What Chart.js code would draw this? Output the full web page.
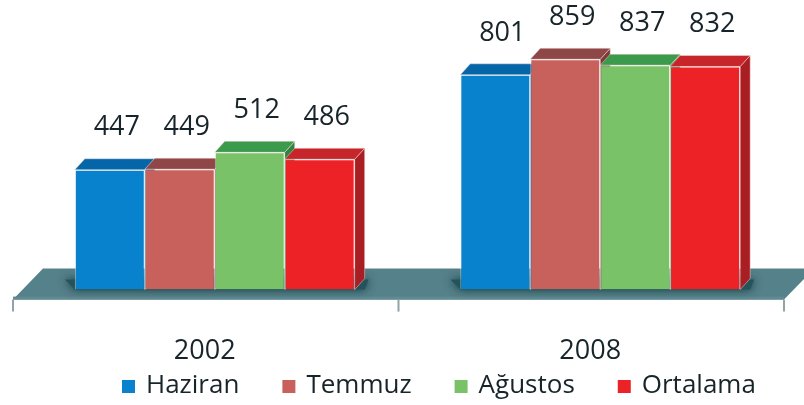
<!DOCTYPE html>
<html>
<head>
<meta charset="utf-8">
<script src="https://cdn.jsdelivr.net/npm/chart.js@4.4.1/dist/chart.umd.min.js"></script>
<style>
    html, body { margin: 0; padding: 0; background: #ffffff; }
</style>
</head>
<body>
<canvas id="myChart" width="804" height="405"></canvas>
<script>
const years = ["2002", "2008"];
const seriesNames = ["Haziran", "Temmuz", "Ağustos", "Ortalama"];
const haziran = [447, 801];
const temmuz = [449, 859];
const agustos = [512, 837];
const ortalama = [486, 832];

const frontColors = ["#0882cc", "#c8605c", "#7ac268", "#ec2226"];
const topColors = ["#0466a8", "#8e4646", "#3c9a4c", "#c6262a"];
const sideColors = ["#045a94", "#7c3a3a", "#2f8540", "#a81e22"];
const textColor = "#17242a";
const depthX = 10, depthY = -11;

// floor, shadows, bar sides and tops (drawn behind the front faces)
const bars3d = {
    id: "bars3d",
    beforeDatasetsDraw(chart)
    {
        let ctx = chart.ctx;
        let area = chart.chartArea;
        let base = chart.scales.y.getPixelForValue(0);
        let fl = area.left - 9, fr = area.right - 9, fy = base + 10, by = fy - 31;
        ctx.save();
        ctx.fillStyle = "#55818a";
        ctx.beginPath();
        ctx.moveTo(fl, fy);
        ctx.lineTo(fr, fy);
        ctx.lineTo(fr + 30, by);
        ctx.lineTo(fl + 30, by);
        ctx.closePath();
        ctx.fill();
        ctx.fillStyle = "#5f8a92";
        ctx.fillRect(fl, fy - 3, fr - fl, 3);

        ctx.strokeStyle = "#8fa3a8";
        ctx.lineWidth = 2;
        let step = (area.right - area.left) / years.length;
        for (let i = 0; i <= years.length; i++)
        {
            let x = fl + step * i;
            ctx.beginPath();
            ctx.moveTo(x, fy);
            ctx.lineTo(x, fy + 12);
            ctx.stroke();
        }

        let metas = chart.data.datasets.map((d, i) => chart.getDatasetMeta(i));
        // shadow under each group
        for (let j = 0; j < years.length; j++)
        {
            let first = metas[0].data[j], last = metas[metas.length - 1].data[j];
            let x1 = first.x - first.width / 2, x2 = last.x + last.width / 2 + depthX;
            ctx.save();
            ctx.shadowColor = "rgba(8,45,50,0.9)";
            ctx.shadowBlur = 10;
            ctx.fillStyle = "#24545b";
            ctx.beginPath();
            ctx.moveTo(x1 - 10, base - 10);
            ctx.lineTo(x2 + 4, base - 10);
            ctx.lineTo(x2, base);
            ctx.lineTo(x1, base);
            ctx.closePath();
            ctx.fill();
            ctx.restore();
        }

        ctx.lineWidth = 1;
        for (let pass = 0; pass < 2; pass++)
        {
            metas.forEach((meta, i) =>
            {
                meta.data.forEach(bar =>
                {
                    let x1 = bar.x - bar.width / 2, x2 = bar.x + bar.width / 2;
                    let top = bar.y, b = bar.base;
                    ctx.beginPath();
                    if (pass == 0)
                    {
                        ctx.fillStyle = sideColors[i];
                        ctx.moveTo(x2, top);
                        ctx.lineTo(x2 + depthX, top + depthY);
                        ctx.lineTo(x2 + depthX, b + depthY);
                        ctx.lineTo(x2, b);
                    }
                    else
                    {
                        ctx.fillStyle = topColors[i];
                        ctx.moveTo(x1, top);
                        ctx.lineTo(x2, top);
                        ctx.lineTo(x2 + depthX, top + depthY);
                        ctx.lineTo(x1 + depthX, top + depthY);
                    }
                    ctx.closePath();
                    ctx.fill();
                    ctx.strokeStyle = "rgba(255,225,225,0.45)";
                    ctx.stroke();
                });
            });
        }
        ctx.restore();
    }
};

// value labels above bars
const valueLabels = {
    id: "valueLabels",
    afterDatasetsDraw(chart)
    {
        let ctx = chart.ctx;
        ctx.save();
        ctx.font = '27px "Open Sans"';
        ctx.fillStyle = textColor;
        ctx.textAlign = "center";
        ctx.textBaseline = "middle";
        chart.data.datasets.forEach((ds, i) =>
        {
            chart.getDatasetMeta(i).data.forEach((bar, j) =>
            {
                ctx.fillText(ds.data[j], bar.x + 7, bar.y - 42);
            });
        });
        ctx.restore();
    }
};

// legend row under the year labels
const legendRow = {
    id: "legendRow",
    afterDraw(chart)
    {
        let ctx = chart.ctx;
        ctx.save();
        ctx.font = '26px "Open Sans"';
        ctx.textBaseline = "middle";
        let x = 122, y = 386;
        chart.data.datasets.forEach(ds =>
        {
            ctx.fillStyle = ds.backgroundColor;
            ctx.fillRect(x, y - 6, 13, 13);
            x += 13 + 11;
            ctx.fillStyle = textColor;
            ctx.fillText(ds.label, x, y);
            x += ctx.measureText(ds.label).width + 43;
        });
        ctx.restore();
    }
};

const seriesValues = [haziran, temmuz, agustos, ortalama];

new Chart(document.getElementById("myChart"), {
    type: "bar",
    data: {
        labels: years,
        datasets: seriesNames.map((name, i) => ({
            label: name,
            data: seriesValues[i],
            backgroundColor: frontColors[i],
            borderColor: "rgba(255,255,255,0.55)",
            borderWidth: 1,
            categoryPercentage: 0.726,
            barPercentage: 1.0
        }))
    },
    options: {
        responsive: false,
        animation: false,
        devicePixelRatio: 1,
        layout: { padding: { left: 22, right: 11, top: 0, bottom: -9 } },
        plugins: {
            legend: { display: false },
            tooltip: { enabled: false }
        },
        scales: {
            x: {
                grid: { display: false, drawTicks: false },
                border: { display: false },
                ticks: {
                    color: textColor,
                    font: { family: "Open Sans", size: 27 },
                    padding: 46,
                    labelOffset: -10
                }
            },
            y: {
                display: false,
                min: 0,
                max: 1080
            }
        }
    },
    plugins: [bars3d, valueLabels, legendRow]
});
</script>
</body>
</html>
